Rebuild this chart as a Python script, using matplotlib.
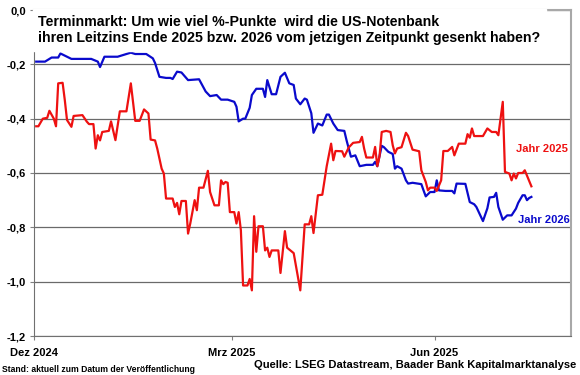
import matplotlib
matplotlib.use('Agg')
import matplotlib.pyplot as plt
import pandas as pd

plt.rcParams['font.family'] = ['Liberation Sans', 'DejaVu Sans']

# Jahr 2026 (blau)
dates_2026 = ['2024-12-02', '2024-12-06', '2024-12-09', '2024-12-12', '2024-12-13', '2024-12-16', '2024-12-18',
              '2024-12-27', '2024-12-30', '2024-12-31', '2025-01-02', '2025-01-08', '2025-01-14', '2025-01-16',
              '2025-01-21', '2025-01-24', '2025-01-25', '2025-01-27', '2025-01-30', '2025-02-01', '2025-02-02',
              '2025-02-04', '2025-02-06', '2025-02-09', '2025-02-14', '2025-02-17', '2025-02-19', '2025-02-22',
              '2025-02-24', '2025-02-27', '2025-03-02', '2025-03-03', '2025-03-04', '2025-03-06', '2025-03-07',
              '2025-03-09', '2025-03-10', '2025-03-12', '2025-03-15', '2025-03-16', '2025-03-17', '2025-03-19',
              '2025-03-21', '2025-03-23', '2025-03-25', '2025-03-27', '2025-03-29', '2025-03-30', '2025-04-01',
              '2025-04-03', '2025-04-04', '2025-04-06', '2025-04-07', '2025-04-09', '2025-04-11', '2025-04-13',
              '2025-04-14', '2025-04-16', '2025-04-18', '2025-04-21', '2025-04-22', '2025-04-24', '2025-04-26',
              '2025-04-28', '2025-05-01', '2025-05-04', '2025-05-05', '2025-05-06', '2025-05-08', '2025-05-09',
              '2025-05-11', '2025-05-13', '2025-05-14', '2025-05-15', '2025-05-17', '2025-05-19', '2025-05-20',
              '2025-05-22', '2025-05-26', '2025-05-27', '2025-05-28', '2025-05-30', '2025-06-01', '2025-06-02',
              '2025-06-03', '2025-06-06', '2025-06-09', '2025-06-10', '2025-06-11', '2025-06-15', '2025-06-17',
              '2025-06-19', '2025-06-20', '2025-06-23', '2025-06-25', '2025-06-26', '2025-06-28', '2025-06-29',
              '2025-06-30', '2025-07-02', '2025-07-04', '2025-07-06', '2025-07-08', '2025-07-09', '2025-07-11',
              '2025-07-12', '2025-07-13', '2025-07-14', '2025-07-15']
values_2026 = [-0.19, -0.19, -0.175, -0.175, -0.16, -0.172, -0.18,
               -0.18, -0.19, -0.21, -0.172, -0.172, -0.157, -0.162,
               -0.162, -0.178, -0.195, -0.246, -0.25, -0.25, -0.254,
               -0.227, -0.23, -0.258, -0.255, -0.30, -0.317, -0.313,
               -0.33, -0.33, -0.338, -0.356, -0.41, -0.40, -0.40,
               -0.36, -0.313, -0.29, -0.29, -0.32, -0.258, -0.31,
               -0.31, -0.246, -0.231, -0.27, -0.276, -0.326, -0.347,
               -0.326, -0.33, -0.38, -0.452, -0.418, -0.425, -0.385,
               -0.385, -0.418, -0.442, -0.445, -0.479, -0.54, -0.535,
               -0.575, -0.57, -0.57, -0.559, -0.575, -0.50, -0.505,
               -0.522, -0.53, -0.584, -0.575, -0.584, -0.627, -0.639,
               -0.636, -0.641, -0.664, -0.686, -0.67, -0.67, -0.627,
               -0.664, -0.666, -0.666, -0.675, -0.639, -0.64, -0.707,
               -0.715, -0.725, -0.777, -0.73, -0.69, -0.688, -0.673,
               -0.725, -0.772, -0.756, -0.756, -0.731, -0.71, -0.682,
               -0.682, -0.70, -0.692, -0.688]

# Jahr 2025 (rot)
dates_2025 = ['2024-12-02', '2024-12-03', '2024-12-05', '2024-12-07', '2024-12-08', '2024-12-10', '2024-12-11',
              '2024-12-12', '2024-12-14', '2024-12-15', '2024-12-16', '2024-12-18', '2024-12-19', '2024-12-23',
              '2024-12-25', '2024-12-26', '2024-12-28', '2024-12-29', '2024-12-30', '2024-12-31', '2025-01-01',
              '2025-01-04', '2025-01-05', '2025-01-07', '2025-01-09', '2025-01-12', '2025-01-14', '2025-01-16',
              '2025-01-18', '2025-01-20', '2025-01-22', '2025-01-23', '2025-01-25', '2025-01-26', '2025-01-28',
              '2025-01-29', '2025-01-30', '2025-02-02', '2025-02-03', '2025-02-04', '2025-02-05', '2025-02-06',
              '2025-02-08', '2025-02-09', '2025-02-10', '2025-02-12', '2025-02-13', '2025-02-14', '2025-02-16',
              '2025-02-18', '2025-02-19', '2025-02-21', '2025-02-23', '2025-02-24', '2025-02-25', '2025-02-26',
              '2025-02-27', '2025-02-28', '2025-03-02', '2025-03-03', '2025-03-04', '2025-03-05', '2025-03-06',
              '2025-03-08', '2025-03-09', '2025-03-10', '2025-03-11', '2025-03-12', '2025-03-13', '2025-03-15',
              '2025-03-16', '2025-03-17', '2025-03-18', '2025-03-19', '2025-03-22', '2025-03-23', '2025-03-25',
              '2025-03-26', '2025-03-29', '2025-04-01', '2025-04-03', '2025-04-05', '2025-04-06', '2025-04-07',
              '2025-04-09', '2025-04-11', '2025-04-13', '2025-04-15', '2025-04-16', '2025-04-17', '2025-04-20',
              '2025-04-21', '2025-04-23', '2025-04-25', '2025-04-28', '2025-04-29', '2025-04-30', '2025-05-01',
              '2025-05-04', '2025-05-05', '2025-05-06', '2025-05-07', '2025-05-08', '2025-05-10', '2025-05-12',
              '2025-05-13', '2025-05-14', '2025-05-15', '2025-05-17', '2025-05-19', '2025-05-20', '2025-05-22',
              '2025-05-25', '2025-05-26', '2025-05-28', '2025-05-29', '2025-05-30', '2025-06-01', '2025-06-02',
              '2025-06-04', '2025-06-05', '2025-06-07', '2025-06-09', '2025-06-10', '2025-06-12', '2025-06-15',
              '2025-06-16', '2025-06-17', '2025-06-18', '2025-06-19', '2025-06-23', '2025-06-25', '2025-06-27',
              '2025-06-29', '2025-06-30', '2025-07-02', '2025-07-03', '2025-07-05', '2025-07-06', '2025-07-07',
              '2025-07-08', '2025-07-09', '2025-07-11', '2025-07-12', '2025-07-13', '2025-07-15']
values_2025 = [-0.428, -0.428, -0.40, -0.397, -0.371, -0.40, -0.428,
               -0.27, -0.268, -0.332, -0.405, -0.43, -0.39, -0.387,
               -0.411, -0.42, -0.42, -0.51, -0.461, -0.48, -0.449,
               -0.445, -0.41, -0.479, -0.373, -0.373, -0.27, -0.408,
               -0.408, -0.366, -0.381, -0.477, -0.48, -0.51, -0.584,
               -0.602, -0.694, -0.694, -0.725, -0.71, -0.752, -0.703,
               -0.703, -0.823, -0.786, -0.70, -0.737, -0.654, -0.654,
               -0.592, -0.67, -0.719, -0.719, -0.627, -0.641, -0.633,
               -0.636, -0.744, -0.744, -0.786, -0.744, -0.811, -1.014,
               -1.014, -0.99, -1.032, -0.759, -0.89, -0.796, -0.796,
               -0.885, -0.875, -0.909, -0.885, -0.885, -0.968, -0.814,
               -0.875, -0.895, -1.032, -0.789, -0.789, -0.759, -0.821,
               -0.682, -0.68, -0.575, -0.492, -0.553, -0.519, -0.52,
               -0.54, -0.506, -0.489, -0.486, -0.467, -0.51, -0.543,
               -0.543, -0.504, -0.575, -0.538, -0.449, -0.445, -0.449,
               -0.498, -0.528, -0.51, -0.505, -0.452, -0.464, -0.514,
               -0.52, -0.59, -0.633, -0.664, -0.654, -0.654, -0.666,
               -0.627, -0.519, -0.519, -0.504, -0.535, -0.492, -0.492,
               -0.457, -0.47, -0.436, -0.464, -0.464, -0.436, -0.449,
               -0.449, -0.461, -0.338, -0.596, -0.602, -0.627, -0.602,
               -0.62, -0.60, -0.60, -0.59, -0.61, -0.649]

tick_dates = ['2024-12-01', '2025-03-01', '2025-06-01']
tick_labels = ['Dez 2024', 'Mrz 2025', 'Jun 2025']
y_ticks = [0.0, -0.2, -0.4, -0.6, -0.8, -1.0, -1.2]
y_labels = ['0,0', '-0,2', '-0,4', '-0,6', '-0,8', '-1,0', '-1,2']

fig = plt.figure(figsize=(5.8, 3.75), dpi=100)
ax = fig.add_axes([34 / 580, 1 - 336 / 375, 537 / 580, 326 / 375])

ax.plot(pd.to_datetime(dates_2026), values_2026, color='#0a0acc', lw=1.6)
ax.plot(pd.to_datetime(dates_2025), values_2025, color='#ee1111', lw=1.6)

ax.set_ylim(-1.2, 0)
ax.set_xlim(pd.Timestamp('2024-12-01'), pd.Timestamp('2025-08-02'))
ax.set_yticks(y_ticks)
ax.set_yticklabels(y_labels, fontsize=8, fontweight='bold')
ax.set_xticks(pd.to_datetime(tick_dates))
ax.set_xticklabels(tick_labels, fontsize=8, fontweight='bold')
ax.tick_params(axis='both', length=3, color='#808080')
ax.tick_params(axis='x', pad=6)
ax.tick_params(axis='y', pad=3)
ax.grid(axis='y', color='#6a6a6a', lw=0.9)
ax.set_axisbelow(True)

for side in ['left', 'bottom']:
    ax.spines[side].set_color('#707070')
for side in ['top', 'right']:
    ax.spines[side].set_color('#a8a8a8')
    ax.spines[side].set_linewidth(1.5)

ax.text(0.008, 0.985, 'Terminmarkt: Um wie viel %-Punkte  wird die US-Notenbank\n'
        'ihren Leitzins Ende 2025 bzw. 2026 vom jetzigen Zeitpunkt gesenkt haben?',
        transform=ax.transAxes, va='top', ha='left', fontsize=10.2, fontweight='bold',
        linespacing=1.2, backgroundcolor='white')

ax.text(0.995, 0.575, 'Jahr 2025', transform=ax.transAxes, ha='right', va='center',
        color='#ee1111', fontsize=8, fontweight='bold')
ax.text(0.997, 0.355, 'Jahr 2026', transform=ax.transAxes, ha='right', va='center',
        color='#0a0acc', fontsize=8, fontweight='bold')

fig.text(576 / 580, 1 - 365 / 375, 'Quelle: LSEG Datastream, Baader Bank Kapitalmarktanalyse',
         ha='right', va='center', fontsize=8, fontweight='bold')
fig.text(2 / 580, 1 - 370 / 375, 'Stand: aktuell zum Datum der Veröffentlichung',
         ha='left', va='center', fontsize=6.2, fontweight='bold')

fig.savefig('out.png', dpi=100)
